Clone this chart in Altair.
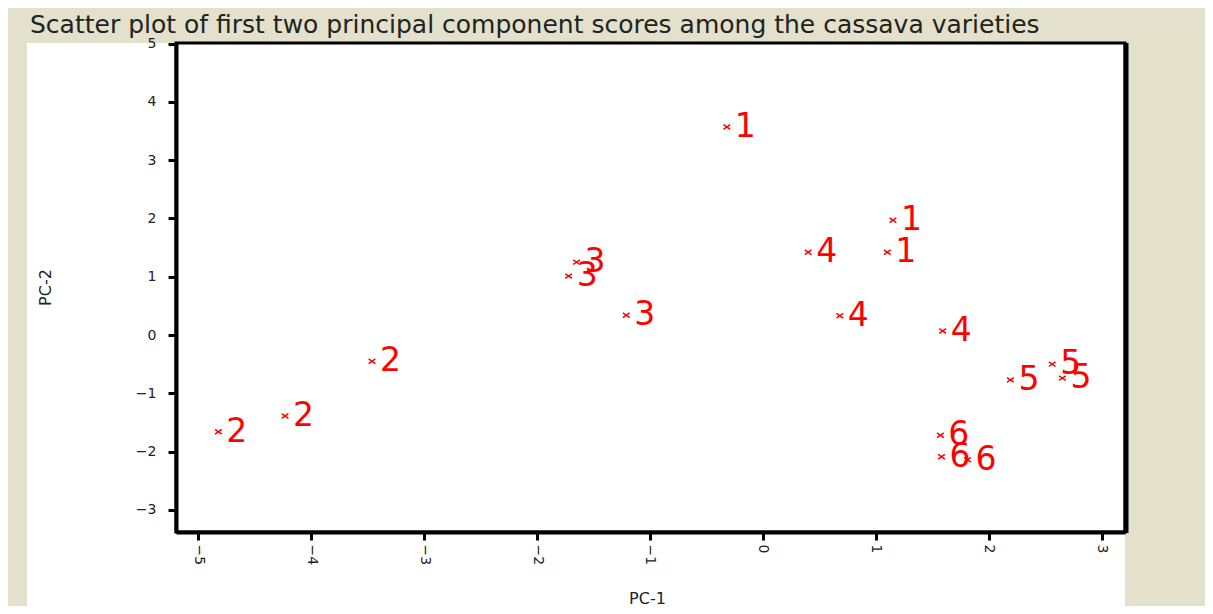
import altair as alt
import pandas as pd

# Data
variety = ["1", "1", "1", "2", "2", "2", "3", "3", "3",
           "4", "4", "4", "5", "5", "5", "6", "6", "6"]
pc1 = [-0.32, 1.15, 1.10, -3.46, -4.23, -4.82, -1.65, -1.72, -1.21,
       0.40, 0.68, 1.59, 2.19, 2.56, 2.65, 1.57, 1.58, 1.81]
pc2 = [3.57, 1.97, 1.42, -0.45, -1.39, -1.66, 1.25, 1.01, 0.34,
       1.42, 0.33, 0.07, -0.77, -0.50, -0.74, -1.72, -2.09, -2.14]

x_ticks = [-5, -4, -3, -2, -1, 0, 1, 2, 3]
y_ticks = [-3, -2, -1, 0, 1, 2, 3, 4, 5]

df = pd.DataFrame({"PC1": pc1, "PC2": pc2, "variety": variety})
one = pd.DataFrame({"a": [0]})

W, H = 949, 489
BEIGE = "#e3e1cb"
FONT = "DejaVu Sans"

xenc = alt.X("PC1:Q",
             scale=alt.Scale(domain=[-5.195, 3.204], nice=False, zero=False),
             axis=alt.Axis(values=x_ticks, format="d", labelAngle=90, tickSize=8,
                           tickWidth=3, tickColor="black", domainColor="black",
                           domainWidth=4, labelFontSize=14, labelColor="#222",
                           labelFont=FONT, labelPadding=4, grid=False, zindex=1,
                           title="PC-1", titleFont=FONT, titleFontSize=16,
                           titleFontWeight="normal", titleColor="#222",
                           titleX=471, titleY=66, titleAlign="center",
                           titleBaseline="middle"))
yenc = alt.Y("PC2:Q",
             scale=alt.Scale(domain=[-3.38, 5.01], nice=False, zero=False),
             axis=alt.Axis(values=y_ticks, format="d", tickSize=8, tickWidth=3,
                           tickColor="black", domainColor="black", domainWidth=4,
                           labelFontSize=14, labelColor="#222", labelFont=FONT,
                           labelPadding=12, grid=False, zindex=1,
                           title="PC-2", titleFont=FONT, titleFontSize=16,
                           titleFontWeight="normal", titleColor="#222",
                           titleAngle=-90, titleX=-131, titleY=244,
                           titleAlign="center", titleBaseline="middle"))

panel = alt.Chart(one).mark_rect(color="white").encode(
    x=alt.value(-149), x2=alt.value(W), y=alt.value(0), y2=alt.value(565))

base = alt.Chart(df)
points = base.mark_point(shape="M-1,-0.7L1,0.7M-1,0.7L1,-0.7", filled=False,
                         size=45, strokeWidth=1.5, color="#ff0000",
                         opacity=1).encode(x=xenc, y=yenc)
labels = base.mark_text(align="left", baseline="middle", dx=8, fontSize=33,
                        font=FONT, color="#ff0000").encode(
    x="PC1:Q", y="PC2:Q", text="variety:N")

frame = alt.Chart(one).mark_rect(fillOpacity=0, stroke="black", strokeWidth=3).encode(
    x=alt.value(0), x2=alt.value(W), y=alt.value(0), y2=alt.value(H))
right_edge = alt.Chart(one).mark_rule(color="black", strokeWidth=5).encode(
    x=alt.value(W + 1), y=alt.value(0), y2=alt.value(H + 1))

chart = alt.layer(panel, points, labels, frame, right_edge).properties(
    width=W, height=H,
    autosize="none",
    padding={"left": 168, "top": 35, "right": 80, "bottom": 74},
    background=BEIGE,
    title=alt.TitleParams(
        "Scatter plot of first two principal component scores among the cassava varieties",
        anchor="start", frame="group", dx=-146, offset=-1, fontSize=25,
        font=FONT, fontWeight="normal", color="#222"),
).configure_view(stroke=None)

chart.save("out.html", embed_options={"renderer": "svg", "actions": False})
